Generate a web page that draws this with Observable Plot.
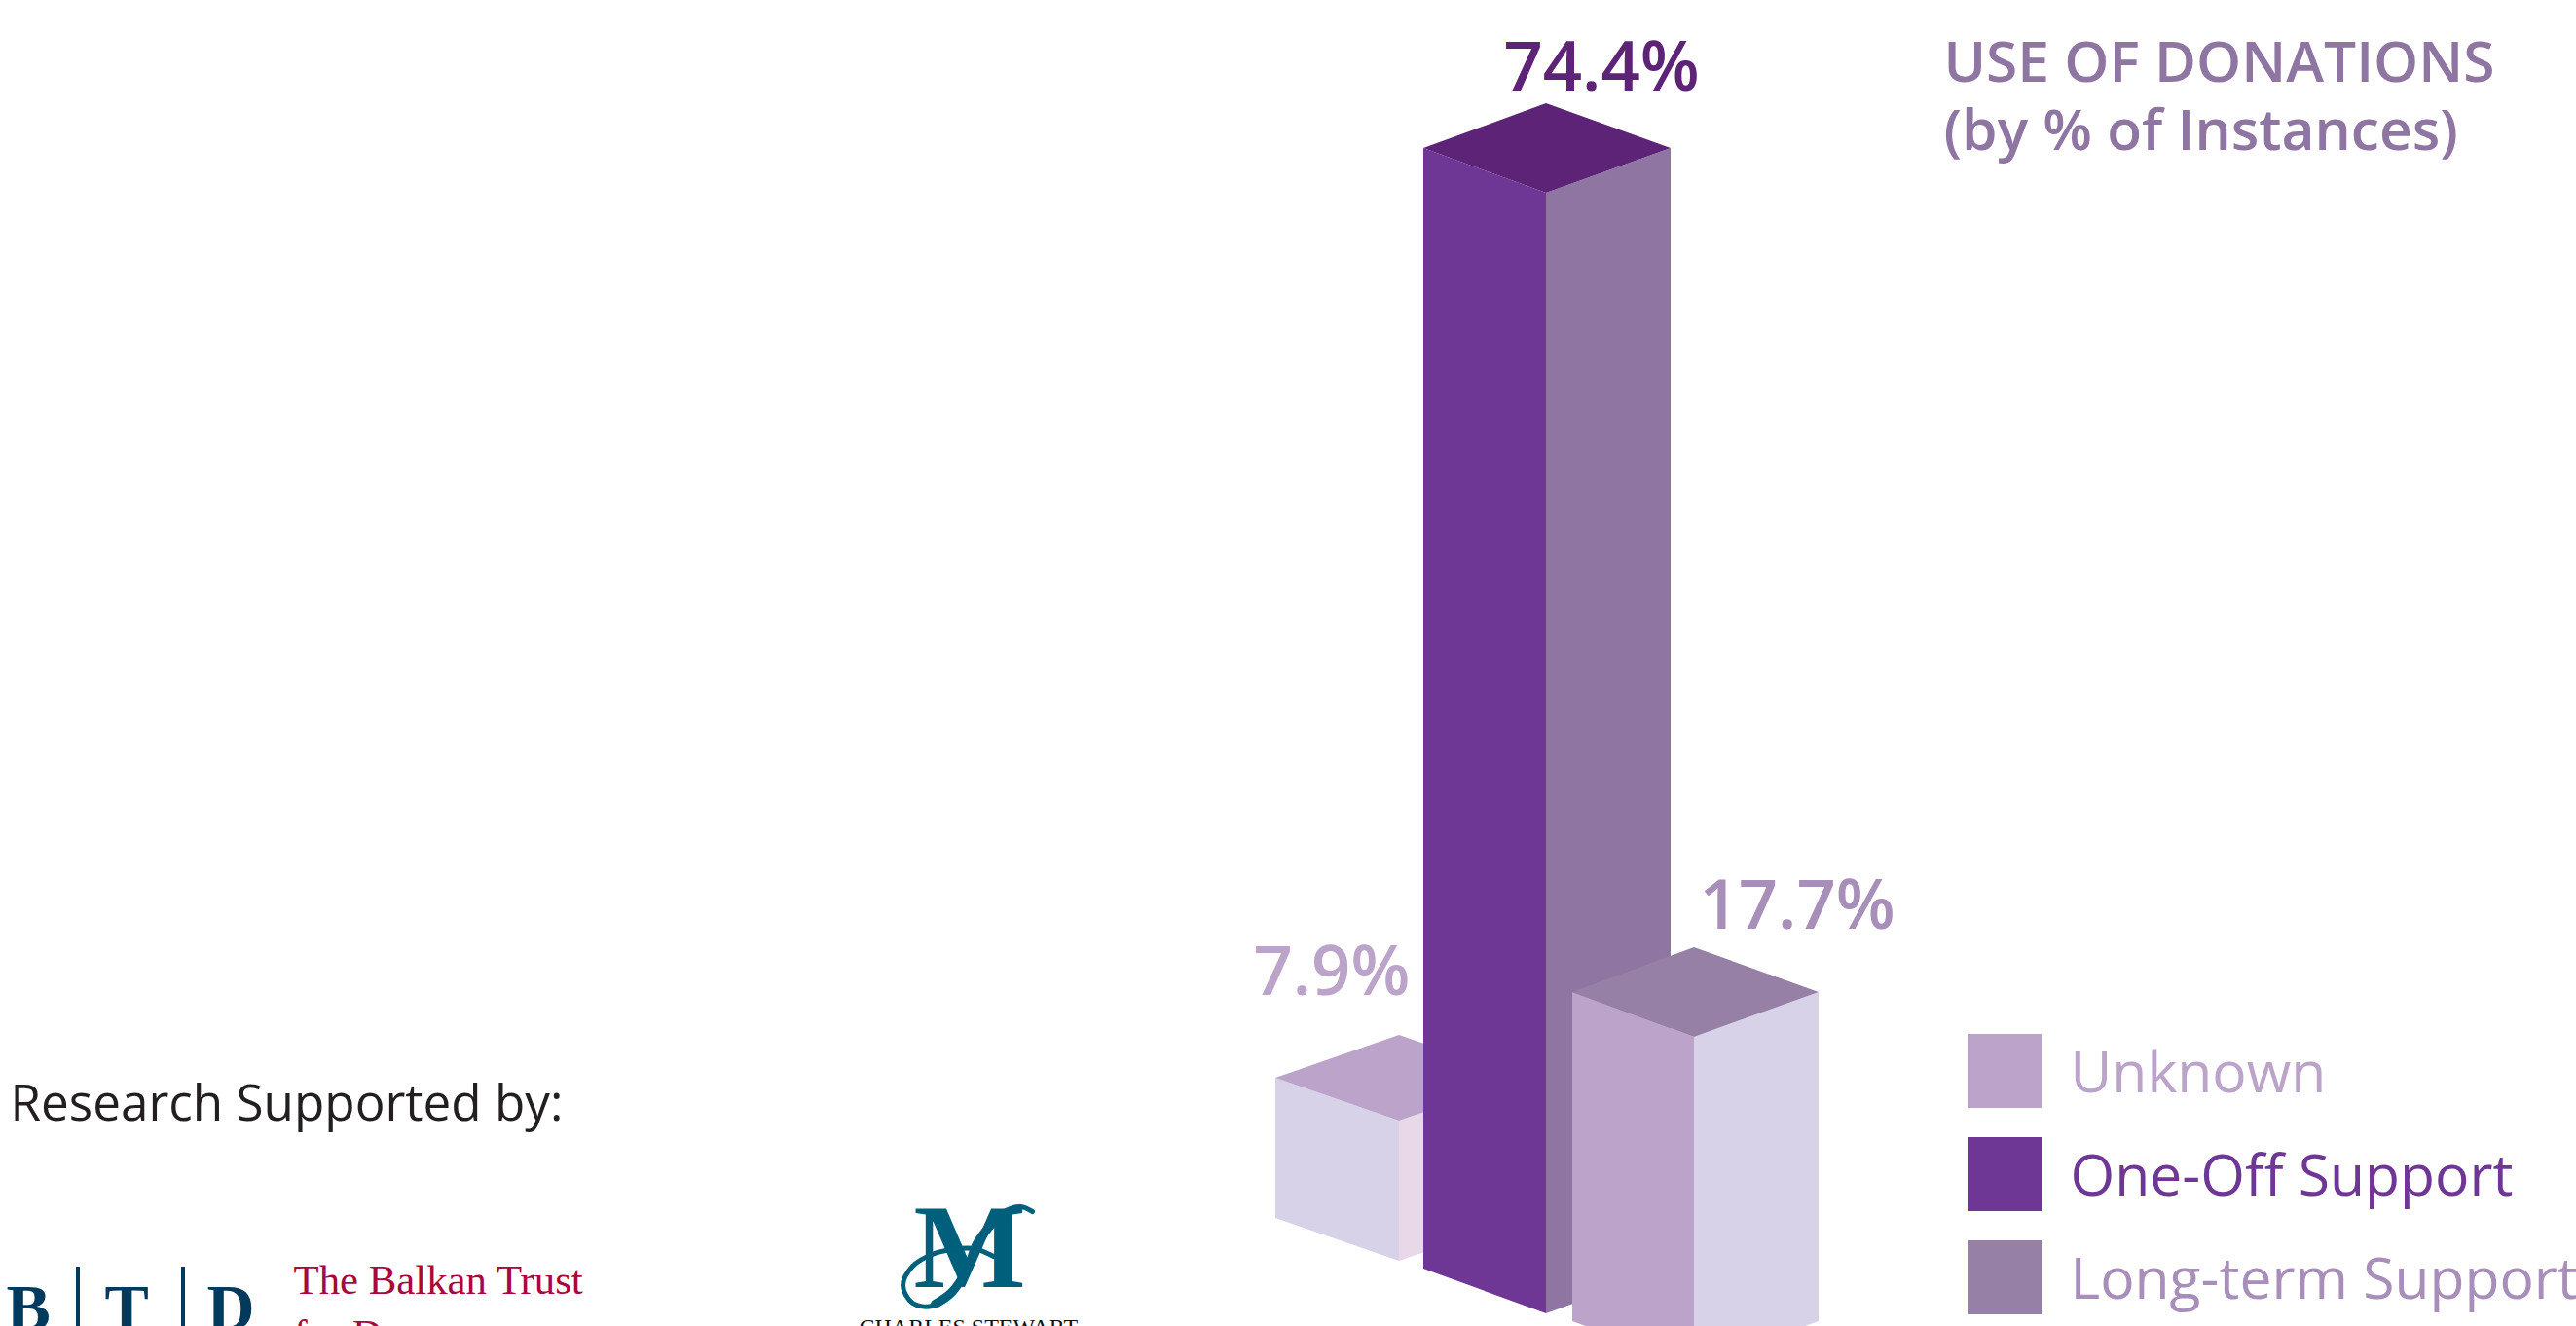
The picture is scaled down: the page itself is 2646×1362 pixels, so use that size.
<!DOCTYPE html>
<html><head><meta charset="utf-8">
<style>html,body{margin:0;padding:0;background:#fff;overflow:hidden}</style>
<script src="https://cdn.jsdelivr.net/npm/d3@7"></script>
<script src="https://cdn.jsdelivr.net/npm/@observablehq/plot@0.6"></script>
</head><body><div id="chart"></div>
<script>
// Data
const categories = ["Unknown", "One-Off Support", "Long-term Support"];
const values = [7.9, 74.4, 17.7];
const valueLabels = ["7.9%", "74.4%", "17.7%"];
// Columns as drawn in the picture, in percentage points (the artwork is not strictly proportional)
const columnTops = [12.67, 74.4, 18.36];
const columnFloors = [3.36, 0, -3.49];

// Layout
const W = 2646, H = 1362, pxPerPoint = 15.47, floorPx = 1303;
const toY = px => (floorPx - px) / pxPerPoint;
const columnDepth = [44 / pxPerPoint, 46 / pxPerPoint, 46 / pxPerPoint];
const columnX = [[1310, 1437, 1564], [1462, 1588, 1716], [1615, 1740, 1868]];
const faceColors = [
  {left: "#d7d2e8", right: "#e8d8e8", top: "#bba3ca"},
  {left: "#6f3795", right: "#8f75a2", top: "#5c2377"},
  {left: "#bba3ca", right: "#d7d2e8", top: "#9680a6"}
];
const labelStyle = [
  {x: 1287, base: 1021, fill: "#bba3ca"},
  {x: 1544, base: 92, fill: "#5c2377"},
  {x: 1745, base: 953, fill: "#a88fba"}
];
const legendStyle = [
  {top: 1062, base: 1121, swatch: "#bba3ca", fill: "#bba3ca"},
  {top: 1168, base: 1227, swatch: "#6f3795", fill: "#6f3795"},
  {top: 1274, base: 1333, swatch: "#9680a6", fill: "#a88fba"}
];
const font = "'Open Sans'", serif = "'Liberation Serif'";

const label = (s, x, base, size, fill, weight = 400, family = font) =>
  Plot.text([s], {text: d => d, x, y: toY(base - 0.32 * size), fontSize: size, fill,
    fontWeight: weight, fontFamily: family, textAnchor: "start"});

const bars = categories.flatMap((_, i) => {
  const [xl, xf, xr] = columnX[i], t = columnTops[i], f = columnFloors[i], c = faceColors[i], d = columnDepth[i];
  const face = (rows, fill) => Plot.areaY(rows, {x: "x", y1: "y1", y2: "y2", fill});
  return [
    face([{x: xl, y1: f, y2: t}, {x: xf, y1: f - d, y2: t - d}], c.left),
    face([{x: xf, y1: f - d, y2: t - d}, {x: xr, y1: f, y2: t}], c.right),
    face([{x: xl, y1: t, y2: t}, {x: xf, y1: t - d, y2: t + d}, {x: xr, y1: t, y2: t}], c.top)
  ];
});

const legend = categories.flatMap((name, i) => {
  const s = legendStyle[i];
  return [
    Plot.rect([0], {x1: 2021, x2: 2097, y1: toY(s.top), y2: toY(s.top + 76), fill: s.swatch}),
    label(name, 2126, s.base, 58.8, s.fill)
  ];
});

const valueText = valueLabels.map((t, i) =>
  label(t, labelStyle[i].x, labelStyle[i].base, 70.5, labelStyle[i].fill, 600));

// Sponsor logos, partly cut off by the bottom edge as in the source
const navy = "#003a5d", red = "#a6093d", teal = "#005f7a";
const swash = [[1060, 1244], [1048, 1239], [1033, 1243], [1017, 1258], [1003, 1277], [993, 1303], [977, 1327], [957, 1341], [937, 1338], [927, 1320], [937, 1300], [957, 1288], [977, 1283], [1000, 1282], [1020, 1290]];
const swashBody = [[1017, 1258], [1003, 1277], [993, 1303], [977, 1327], [960, 1339]];
const logos = [
  label("Research Supported by:", 10, 1150, 51.2, "#231f20"),
  label("B", 6, 1365, 68, navy, 700, serif),
  label("T", 107, 1365, 68, navy, 700, serif),
  label("D", 212, 1365, 68, navy, 700, serif),
  Plot.ruleX([79.5, 187.5], {y1: toY(1301), y2: toY(1362), stroke: navy, strokeWidth: 4}),
  label("The Balkan Trust", 301, 1328, 42.8, red, 400, serif),
  label("for Democracy", 301, 1384, 42.8, red, 400, serif),
  label("M", 938, 1321, 122, teal, 700, serif),
  Plot.line(swash, {x: d => d[0], y: d => toY(d[1]), stroke: teal, strokeWidth: 5, curve: "catmull-rom"}),
  Plot.line(swashBody, {x: d => d[0], y: d => toY(d[1]), stroke: teal, strokeWidth: 9, curve: "catmull-rom"}),
  label("CHARLES STEWART", 882, 1370, 24, "#111", 400, serif)
];

const chart = Plot.plot({
  width: W, height: H, margin: 0,
  style: {background: "#fff", overflow: "hidden"},
  x: {domain: [0, W], range: [0, W], axis: null},
  y: {domain: [toY(H), toY(0)], range: [H, 0], axis: null},
  marks: [
    ...bars,
    ...valueText,
    label("USE OF DONATIONS", 1996, 83, 58.7, "#8f75a2", 600),
    label("(by % of Instances)", 1996, 153, 58.7, "#8f75a2", 600),
    ...legend,
    ...logos
  ]
});
document.getElementById("chart").appendChild(chart);
</script></body></html>
